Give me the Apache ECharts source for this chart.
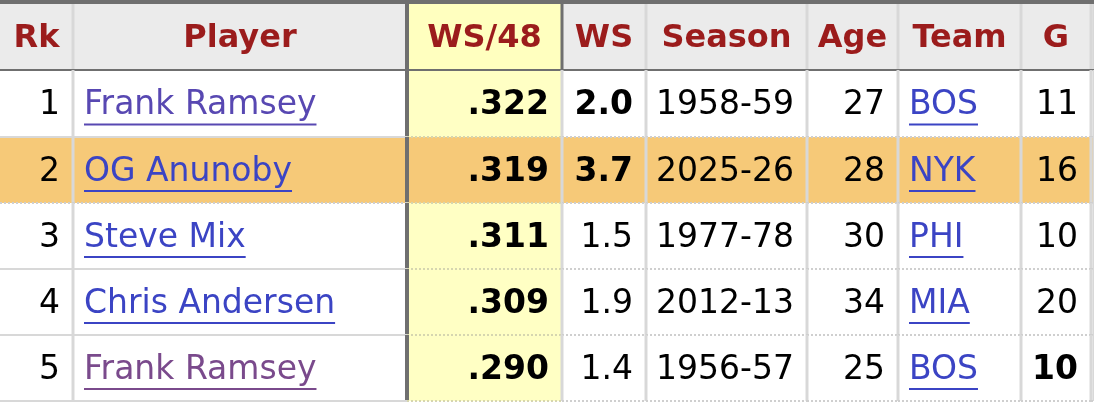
<!DOCTYPE html>
<html><head><meta charset="utf-8">
<script src="https://cdn.jsdelivr.net/npm/echarts@6/dist/echarts.min.js"></script>
<style>html,body{margin:0;padding:0;background:#fff}#c{width:1094px;height:405px}</style>
</head><body><div id="c"></div>
<script>
// ---- data ----
const headers = ['Rk', 'Player', 'WS/48', 'WS', 'Season', 'Age', 'Team', 'G'];
const ranks = ['1', '2', '3', '4', '5'];
const players = ['Frank Ramsey', 'OG Anunoby', 'Steve Mix', 'Chris Andersen', 'Frank Ramsey'];
const ws48 = ['.322', '.319', '.311', '.309', '.290'];
const ws = ['2.0', '3.7', '1.5', '1.9', '1.4'];
const seasons = ['1958-59', '2025-26', '1977-78', '2012-13', '1956-57'];
const ages = ['27', '28', '30', '34', '25'];
const teams = ['BOS', 'NYK', 'PHI', 'MIA', 'BOS'];
const games = ['11', '16', '10', '20', '10'];
const boldWS = [true, true, false, false, false];
const boldG = [false, false, false, false, true];
const highlightRow = 1;

// ---- layout & style ----
const columns = [ranks, players, ws48, ws, seasons, ages, teams, games, null];
const colEdges = [0, 73, 407, 562, 646, 807, 898, 1021, 1091, 1094];
const rowEdges = [0, 70, 137, 203, 269, 335, 401, 405];
const colAlign = ['right', 'left', 'right', 'right', 'right', 'right', 'left', 'right', 'right'];
const FONT = '"DejaVu Sans", Verdana, sans-serif';
const FS = 33, HFS = 32;
const linkColors = ['#5848b2', '#3b44c4', '#3b44c4', '#3b44c4', '#7a4a8c'];
const teamColor = '#3b44c4';

const mctx = document.createElement('canvas').getContext('2d');
function measure(t, bold) { mctx.font = (bold ? 'bold ' : '') + FS + 'px "DejaVu Sans"'; return mctx.measureText(t).width; }

const cells = [];
for (let r = 0; r < rowEdges.length - 1; r++)
  for (let c = 0; c < colEdges.length - 1; c++) cells.push([c, r]);

function box(api) {
  const c = api.value(0), r = api.value(1);
  const p0 = api.coord([colEdges[c], rowEdges[r]]);
  const p1 = api.coord([colEdges[c + 1], rowEdges[r + 1]]);
  return { c, r, x0: p0[0], y0: p0[1], x1: p1[0], y1: p1[1] };
}

function bgItem(params, api) {
  const b = box(api);
  let fill = '#ffffff';
  if (b.r === 0) fill = b.c === 2 ? '#ffffbf' : '#ebebeb';
  else if (b.r - 1 === highlightRow) fill = '#f6c978';
  else if (b.c === 2 && b.r <= 5) fill = '#ffffc4';
  return { type: 'rect', shape: { x: b.x0, y: b.y0, width: b.x1 - b.x0, height: b.y1 - b.y0 }, style: { fill } };
}

function lineItem(params, api) {
  const b = box(api);
  const children = [];
  if (b.r >= 6) return { type: 'group', children };
  let rc = '#d8d8d8', rw = 3;
  if (b.c === 1) { rc = '#6f6f6f'; rw = 4; }
  if (b.c === 2 && b.r === 0) { rc = '#6f6f6f'; rw = 3; }
  children.push({ type: 'line', shape: { x1: b.x1, y1: b.y0, x2: b.x1, y2: b.y1 }, style: { stroke: rc, lineWidth: rw } });
  if (b.r === 0) {
    children.push({ type: 'line', shape: { x1: b.x0, y1: b.y1, x2: b.x1, y2: b.y1 }, style: { stroke: '#6f6f6f', lineWidth: 2 } });
    children.push({ type: 'line', shape: { x1: b.x0, y1: b.y0 + 2, x2: b.x1, y2: b.y0 + 2 }, style: { stroke: '#6f6f6f', lineWidth: 4 } });
  } else {
    const solid = b.c <= 1 && (b.r - 1) !== highlightRow;
    children.push({ type: 'line', shape: { x1: b.x0, y1: b.y1, x2: b.x1, y2: b.y1 },
      style: { stroke: solid ? '#d8d8d8' : (b.c === 2 ? '#d6d6b0' : '#cfcfcf'), lineWidth: 2, lineDash: solid ? null : [2, 2] } });
  }
  return { type: 'group', children };
}

function textItem(params, api) {
  const b = box(api);
  const children = [];
  if (b.r > 5 || b.c > 7) return { type: 'group', children };
  const cy = (b.y0 + b.y1) / 2 + (b.r === 0 ? 4 : 2);
  if (b.r === 0) {
    children.push({ type: 'text', style: { text: headers[b.c], x: (b.x0 + b.x1) / 2, y: cy, align: 'center', verticalAlign: 'middle',
      fontFamily: FONT, fontSize: HFS, fontWeight: 'bold', fill: '#9b1c1c' } });
    return { type: 'group', children };
  }
  const i = b.r - 1;
  const t = columns[b.c][i];
  const bold = b.c === 2 || (b.c === 3 && boldWS[i]) || (b.c === 7 && boldG[i]);
  let fill = '#000000';
  if (b.c === 1) fill = linkColors[i];
  if (b.c === 6) fill = teamColor;
  const align = colAlign[b.c];
  const x = align === 'left' ? b.x0 + 11 : b.x1 - 13;
  children.push({ type: 'text', style: { text: t, x, y: cy, align, verticalAlign: 'middle',
    fontFamily: FONT, fontSize: FS, fontWeight: bold ? 'bold' : 'normal', fill } });
  if (b.c === 1 || b.c === 6) {
    const w = measure(t, bold);
    children.push({ type: 'rect', shape: { x: x, y: cy + 18, width: w, height: 2 }, style: { fill } });
  }
  return { type: 'group', children };
}

const chart = echarts.init(document.getElementById('c'), null, { renderer: 'canvas' });
chart.setOption({
  animation: false,
  grid: { left: 0, right: 0, top: 0, bottom: 0 },
  xAxis: { type: 'value', min: 0, max: 1094, show: false },
  yAxis: { type: 'value', min: 0, max: 405, inverse: true, show: false },
  series: [
    { type: 'custom', data: cells, renderItem: bgItem, z: 1, silent: true },
    { type: 'custom', data: cells, renderItem: lineItem, z: 2, silent: true },
    { type: 'custom', data: cells, renderItem: textItem, z: 3, silent: true }
  ]
});
</script></body></html>
